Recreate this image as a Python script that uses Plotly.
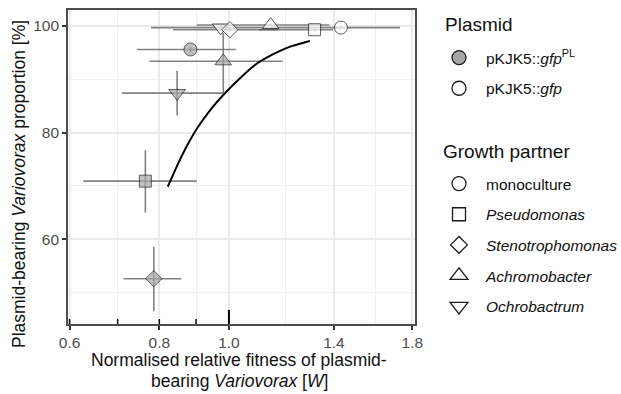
import plotly.graph_objects as go

# ---------------- data ----------------
partners = ["monoculture", "Pseudomonas", "Stenotrophomonas", "Achromobacter", "Ochrobactrum"]
symbols = ["circle", "square", "diamond", "triangle-up", "triangle-down"]

# pKJK5::gfpPL (grey fill)
pl_x = [0.884, 0.765, 0.786, 0.982, 0.847]
pl_xlo = [0.745, 0.627, 0.713, 0.775, 0.710]
pl_xhi = [1.022, 0.902, 0.859, 1.188, 0.982]
pl_y = [95.6, 70.9, 52.6, 93.4, 87.4]
pl_ylo = [95.1, 65.0, 46.5, 87.4, 83.2]
pl_yhi = [96.1, 76.7, 58.6, 98.7, 91.6]

# pKJK5::gfp (white fill) -- drawing order: mono, Pseudo, Achro, Ochro, Steno
gfp_partner = ["monoculture", "Pseudomonas", "Achromobacter", "Ochrobactrum", "Stenotrophomonas"]
gfp_x = [1.432, 1.316, 1.143, 0.974, 1.003]
gfp_xlo = [1.150, 1.100, 0.902, 0.779, 0.836]
gfp_xhi = [1.730, 1.396, 1.380, 1.170, 1.170]
gfp_y = [99.7, 99.3, 100.2, 99.7, 99.3]
gfp_ylo = [99.4, 99.0, 99.9, 99.4, 99.0]
gfp_yhi = [100.0, 99.6, 100.5, 100.0, 99.6]

# fitted curve
curve_x = [0.822, 0.850, 0.878, 0.906, 0.946, 0.982, 1.030, 1.087, 1.147, 1.209, 1.296]
curve_y = [69.85, 74.24, 78.0, 81.1, 84.56, 87.05, 89.87, 92.68, 94.56, 96.0, 97.19]

x_ticks = [0.6, 0.8, 1.0, 1.4, 1.8]
x_minor = [0.7, 0.9, 1.2, 1.6]
logtick_short = [0.6, 0.7, 0.8, 0.9]
logtick_long = [1.0]
y_ticks = [60, 80, 100]
y_minor = [50, 70, 90]

x_title_lines = ["Normalised relative fitness of plasmid-",
                 "bearing <i>Variovorax</i> [<i>W</i>]"]
y_title = "Plasmid-bearing <i>Variovorax</i> proportion [%]"

sym_of = dict(zip(partners, symbols))
size_of = {"circle": 13, "square": 12, "diamond": 12.5, "triangle-up": 14.5, "triangle-down": 14.5}
GREY = "#a6a6a6"
ERR = "rgba(90,90,90,0.75)"
EDGE = "#1a1a1a"
FONT = "Arial, Liberation Sans, sans-serif"

# plot-area geometry in pixels (for placing titles/legends)
L, R, T, B = 68, 415, 10, 324
W_, H_ = R - L, B - T

fig = go.Figure()

def err_trace(x, y, xlo, xhi, ylo, yhi):
    return go.Scatter(
        x=x, y=y, mode="markers",
        marker=dict(size=1, opacity=0),
        error_x=dict(type="data", symmetric=False,
                     array=[h - v for h, v in zip(xhi, x)],
                     arrayminus=[v - l for v, l in zip(x, xlo)],
                     color=ERR, thickness=1.6, width=0),
        error_y=dict(type="data", symmetric=False,
                     array=[h - v for h, v in zip(yhi, y)],
                     arrayminus=[v - l for v, l in zip(y, ylo)],
                     color=ERR, thickness=1.6, width=0),
        showlegend=False, hoverinfo="skip")

fig.add_trace(err_trace(pl_x, pl_y, pl_xlo, pl_xhi, pl_ylo, pl_yhi))
fig.add_trace(err_trace(gfp_x, gfp_y, gfp_xlo, gfp_xhi, gfp_ylo, gfp_yhi))

fig.add_trace(go.Scatter(x=curve_x, y=curve_y, mode="lines",
                         line=dict(color="black", width=2, shape="spline", smoothing=0.6),
                         showlegend=False, hoverinfo="skip"))

fig.add_trace(go.Scatter(
    x=pl_x, y=pl_y, mode="markers", showlegend=False,
    marker=dict(symbol=[sym_of[p] for p in partners],
                size=[size_of[sym_of[p]] for p in partners],
                color=GREY, line=dict(color=EDGE, width=1))))
fig.add_trace(go.Scatter(
    x=gfp_x, y=gfp_y, mode="markers", showlegend=False,
    marker=dict(symbol=[sym_of[p] for p in gfp_partner],
                size=[size_of[sym_of[p]] for p in gfp_partner],
                color="white", line=dict(color=EDGE, width=1))))

# legend: Plasmid
plasmid_names = ["pKJK5::<i>gfp</i><sup>PL</sup>", "pKJK5::<i>gfp</i>"]
plasmid_fill = [GREY, "white"]
for i, (nm, fc) in enumerate(zip(plasmid_names, plasmid_fill)):
    fig.add_trace(go.Scatter(x=[None], y=[None], mode="markers", name=nm,
                             legend="legend", legendgroup=f"p{i}",
                             marker=dict(symbol="circle", size=14, color=fc,
                                         line=dict(color=EDGE, width=1.3))))
# legend: Growth partner
partner_names = ["monoculture", "<i>Pseudomonas</i>", "<i>Stenotrophomonas</i>",
                 "<i>Achromobacter</i>", "<i>Ochrobactrum</i>"]
leg_size = {"circle": 14, "square": 13, "diamond": 13, "triangle-up": 15.5, "triangle-down": 15.5}
for i, (nm, sy) in enumerate(zip(partner_names, symbols)):
    fig.add_trace(go.Scatter(x=[None], y=[None], mode="markers", name=nm,
                             legend="legend2", legendgroup=f"g{i}",
                             marker=dict(symbol=sy, size=leg_size[sy], color="white",
                                         line=dict(color=EDGE, width=1.3))))

# annotation_logticks-like marks inside the panel bottom
for v in logtick_short:
    fig.add_shape(type="line", xref="x", yref="paper", x0=v, x1=v, y0=0, y1=0.016,
                  line=dict(color="black", width=1.5))
for v in logtick_long:
    fig.add_shape(type="line", xref="x", yref="paper", x0=v, x1=v, y0=0, y1=0.045,
                  line=dict(color="black", width=2))

# legend titles
fig.add_annotation(text="Plasmid", xref="paper", yref="paper",
                   x=(443 - L) / W_, y=(B - 25) / H_, xanchor="left", yanchor="middle",
                   showarrow=False, font=dict(size=19, color="#111111"))
fig.add_annotation(text="Growth partner", xref="paper", yref="paper",
                   x=(441 - L) / W_, y=(B - 151) / H_, xanchor="left", yanchor="middle",
                   showarrow=False, font=dict(size=19, color="#111111"))
# y-axis title
fig.add_annotation(text=y_title, textangle=-90,
                   xref="paper", yref="paper", x=(19 - L) / W_, y=(B - 184) / H_,
                   xanchor="center", yanchor="middle", showarrow=False,
                   font=dict(size=17.5, color="#111111"))
# x-axis title (two lines)
for txt, ypx in zip(x_title_lines, [360, 381.5]):
    fig.add_annotation(text=txt, xref="paper", yref="paper", x=(239 - L) / W_, y=(B - ypx) / H_,
                       xanchor="center", yanchor="middle", showarrow=False,
                       font=dict(size=17.5, color="#111111"))

axis_common = dict(showline=True, linecolor="#4d4d4d", linewidth=1.6, mirror=True,
                   ticks="outside", ticklen=4, tickwidth=1.5, tickcolor="#333333",
                   gridcolor="#ebebeb", gridwidth=1.5, zeroline=False,
                   tickfont=dict(size=15.5, color="#4d4d4d", family=FONT))

fig.update_layout(
    width=621, height=394,
    margin=dict(l=L, r=621 - R, t=T, b=394 - B, autoexpand=False),
    paper_bgcolor="white", plot_bgcolor="white",
    font=dict(family=FONT, color="#111111"),
    xaxis=dict(type="log", range=[-0.224, 0.259], tickvals=x_ticks,
               ticktext=[f"{v:.1f}" for v in x_ticks],
               minor=dict(tickvals=x_minor, showgrid=True, gridcolor="#f0f0f0",
                          gridwidth=1.2, ticks=""),
               **axis_common),
    yaxis=dict(range=[44.1, 103.0], tickvals=y_ticks,
               minor=dict(tickvals=y_minor, showgrid=True, gridcolor="#f0f0f0", gridwidth=1.2),
               **axis_common),
    legend=dict(x=(432 - L) / W_, y=(B - 41) / H_, xanchor="left", yanchor="top",
                itemwidth=44, font=dict(size=15.5), tracegroupgap=7.5,
                bgcolor="rgba(0,0,0,0)"),
    legend2=dict(x=(432 - L) / W_, y=(B - 167) / H_, xanchor="left", yanchor="top",
                 itemwidth=44, font=dict(size=15.5), tracegroupgap=7.5,
                 bgcolor="rgba(0,0,0,0)"),
)

fig.write_html("out.html")
